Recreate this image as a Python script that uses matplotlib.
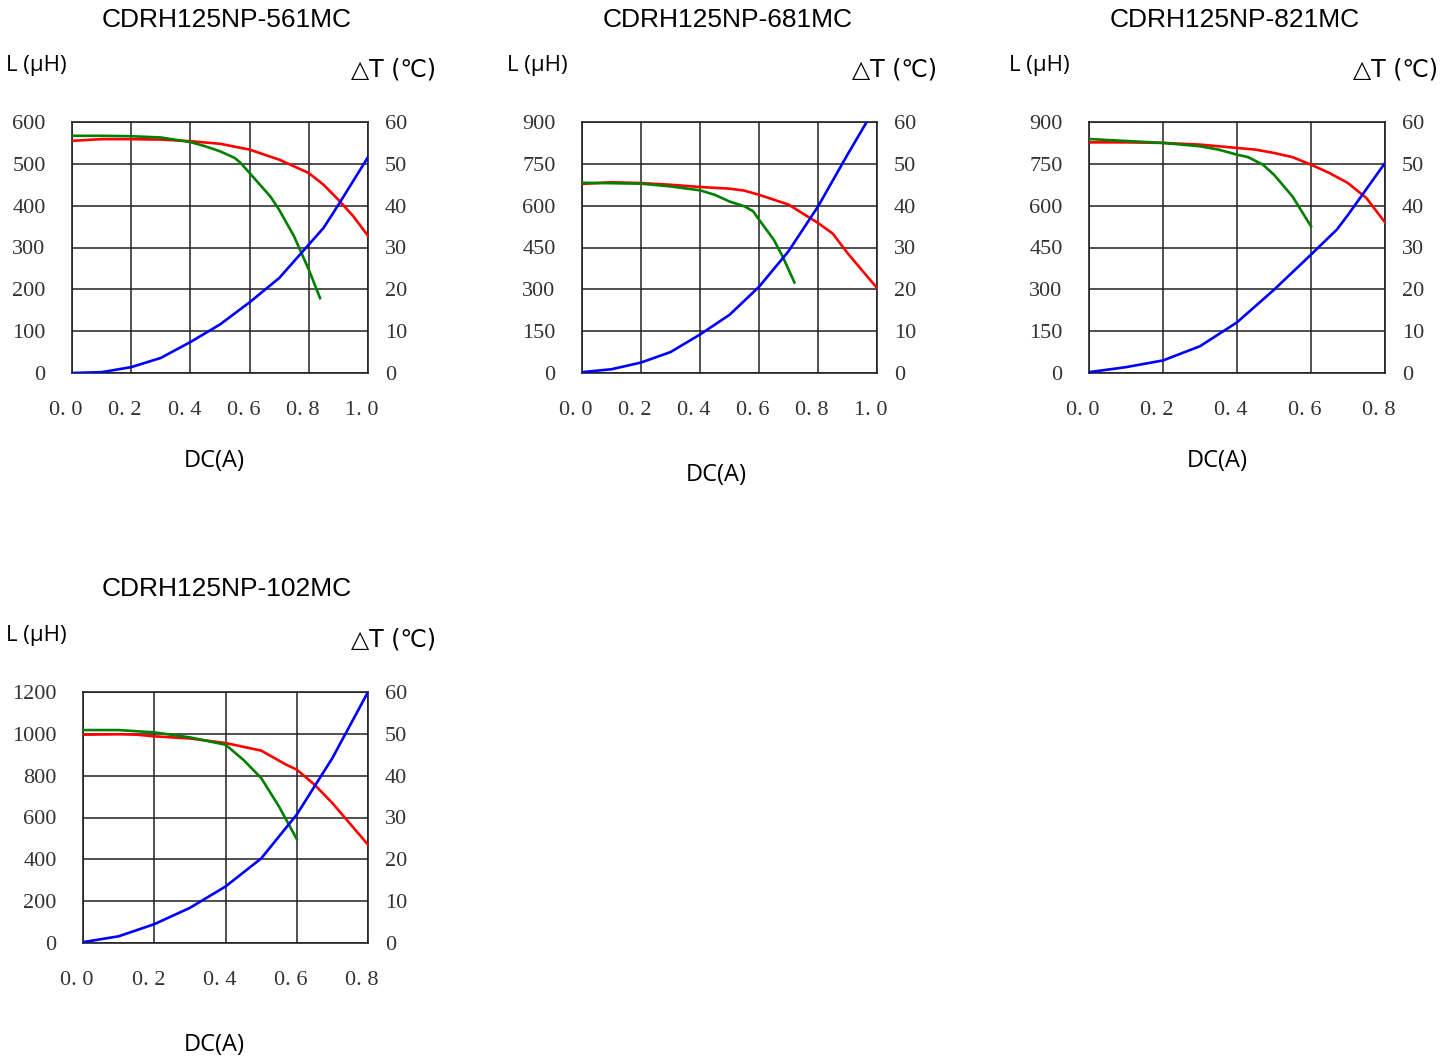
import numpy as np
import matplotlib
matplotlib.use("Agg")
import matplotlib.pyplot as plt
import matplotlib.transforms as mtrans

W, H = 1454, 1062

# ---- CDRH125NP-561MC ----
p1_red_x = [0.0, 0.1, 0.2, 0.3, 0.4, 0.5, 0.6, 0.7, 0.8, 0.85, 0.9, 0.95, 1.0]
p1_red_y = [555, 559, 559, 558, 554, 548, 534, 510, 478, 450, 414, 375, 328]
p1_green_x = [0.0, 0.1, 0.2, 0.3, 0.4, 0.45, 0.5, 0.55, 0.57, 0.6, 0.65, 0.67, 0.7, 0.75, 0.78, 0.8, 0.838]
p1_green_y = [567, 567, 566, 563, 552, 542, 530, 514, 502, 478, 438, 422, 390, 327, 279, 247, 179]
p1_blue_x = [0.0, 0.1, 0.2, 0.3, 0.4, 0.5, 0.6, 0.7, 0.8, 0.85, 0.9, 1.0]
p1_blue_y = [0.0, 0.2, 1.4, 3.6, 7.4, 11.6, 16.9, 22.7, 30.7, 34.7, 40.2, 51.6]

# ---- CDRH125NP-681MC ----
p2_red_x = [0.0, 0.1, 0.2, 0.3, 0.4, 0.5, 0.55, 0.6, 0.7, 0.8, 0.85, 0.9, 1.0]
p2_red_y = [678, 684, 681, 675, 667, 661, 654, 639, 604, 538, 500, 430, 305]
p2_green_x = [0.0, 0.2, 0.3, 0.4, 0.45, 0.5, 0.55, 0.58, 0.6, 0.65, 0.68, 0.72]
p2_green_y = [682, 679, 669, 655, 639, 615, 598, 580, 550, 478, 418, 325]
p2_blue_x = [0.0, 0.1, 0.2, 0.3, 0.4, 0.5, 0.6, 0.7, 0.8, 0.9, 0.965]
p2_blue_y = [0.2, 0.9, 2.5, 5.0, 9.2, 13.9, 20.6, 29.1, 39.8, 52.2, 60.0]

# ---- CDRH125NP-821MC ----
p3_red_x = [0.0, 0.1, 0.2, 0.3, 0.4, 0.45, 0.5, 0.55, 0.6, 0.65, 0.7, 0.75, 0.8]
p3_red_y = [827, 827, 825, 819, 807, 801, 789, 774, 747, 717, 681, 627, 540]
p3_green_x = [0.0, 0.1, 0.2, 0.3, 0.35, 0.4, 0.43, 0.47, 0.5, 0.55, 0.6]
p3_green_y = [839, 832, 825, 813, 801, 783, 774, 747, 711, 633, 526]
p3_blue_x = [0.0, 0.1, 0.2, 0.3, 0.4, 0.5, 0.6, 0.67, 0.7, 0.8]
p3_blue_y = [0.2, 1.4, 3.0, 6.4, 12.1, 19.9, 28.3, 34.3, 37.8, 50.2]

# ---- CDRH125NP-102MC ----
p4_red_x = [0.0, 0.1, 0.15, 0.2, 0.3, 0.4, 0.5, 0.57, 0.6, 0.65, 0.7, 0.8]
p4_red_y = [996, 998, 996, 988, 978, 956, 920, 853, 829, 757, 669, 470]
p4_green_x = [0.0, 0.1, 0.2, 0.3, 0.4, 0.45, 0.5, 0.55, 0.6]
p4_green_y = [1018, 1018, 1007, 983, 948, 876, 789, 653, 497]
p4_blue_x = [0.0, 0.1, 0.2, 0.3, 0.4, 0.5, 0.6, 0.7, 0.8]
p4_blue_y = [0.2, 1.6, 4.5, 8.4, 13.5, 20.2, 30.7, 44.2, 60.0]

titles = ["CDRH125NP-561MC", "CDRH125NP-681MC", "CDRH125NP-821MC", "CDRH125NP-102MC"]
x_max = [1.0, 1.0, 0.8, 0.8]
l_ticks = [
    [0, 100, 200, 300, 400, 500, 600],
    [0, 150, 300, 450, 600, 750, 900],
    [0, 150, 300, 450, 600, 750, 900],
    [0, 200, 400, 600, 800, 1000, 1200],
]
t_ticks = [0, 10, 20, 30, 40, 50, 60]

# axes boxes in pixels: left, top, right, bottom
boxes = [(72, 122, 368, 373), (582, 122, 877, 373), (1089, 122, 1385, 373), (83, 692, 368, 943)]
# label positions in pixels
title_pos = [(227, 20), (728, 20), (1235, 20), (227, 589)]
lab_l_pos = [(6, 65), (507, 65), (1009, 65), (6, 635)]
lab_t_pos = [(436, 69), (937, 69), (1438, 69), (436, 639)]
dc_pos = [(214, 461), (716, 475), (1217, 461), (214, 1045)]

curves = [
    (p1_red_x, p1_red_y, p1_green_x, p1_green_y, p1_blue_x, p1_blue_y),
    (p2_red_x, p2_red_y, p2_green_x, p2_green_y, p2_blue_x, p2_blue_y),
    (p3_red_x, p3_red_y, p3_green_x, p3_green_y, p3_blue_x, p3_blue_y),
    (p4_red_x, p4_red_y, p4_green_x, p4_green_y, p4_blue_x, p4_blue_y),
]

serif = ["Liberation Serif", "DejaVu Serif"]
sans = ["Liberation Sans", "DejaVu Sans"]

fig = plt.figure(figsize=(W / 100, H / 100), dpi=100)

for i in range(4):
    left, top, right, bottom = boxes[i]
    ax = fig.add_axes([left / W, 1 - bottom / H, (right - left) / W, (bottom - top) / H])
    rx, ry, gx, gy, bx, by = curves[i]
    lmax = l_ticks[i][-1]

    ax.plot(rx, ry, color="#ff0000", lw=1.9, zorder=3)
    ax.plot(gx, gy, color="#008000", lw=1.9, zorder=3)
    ax.set_xlim(0, x_max[i])
    ax.set_ylim(0, lmax)

    xt = np.arange(0, x_max[i] + 0.01, 0.2)
    ax.set_xticks(xt)
    ax.set_yticks(l_ticks[i])
    ax.grid(True, color="#222222", lw=1.1)
    ax.tick_params(length=0, labelsize=16)
    ax.tick_params(axis="x", pad=20)
    ax.tick_params(axis="y", pad=19)
    ax.set_xticklabels([("%.1f" % v).replace(".", ". ") for v in xt], family=serif, color="#333333")
    ax.set_yticklabels([str(v) for v in l_ticks[i]], family=serif, color="#333333")
    shift = mtrans.ScaledTranslation(-6 / 100, 0, fig.dpi_scale_trans)
    for lab in ax.get_xticklabels():
        lab.set_transform(lab.get_transform() + shift)
    for s in ax.spines.values():
        s.set_color("#222222")
        s.set_linewidth(1.2)

    ax2 = ax.twinx()
    ax2.plot(bx, by, color="#0000ff", lw=1.9, zorder=3)
    ax2.set_ylim(0, 60)
    ax2.set_yticks(t_ticks)
    ax2.set_yticklabels([str(v) for v in t_ticks], family=serif, color="#333333")
    ax2.tick_params(length=0, labelsize=16, pad=12)
    for s in ax2.spines.values():
        s.set_visible(False)

    fig.text(title_pos[i][0] / W, 1 - title_pos[i][1] / H, titles[i], ha="center", va="center",
             fontsize=19, family=sans)
    fig.text(lab_l_pos[i][0] / W, 1 - lab_l_pos[i][1] / H, "L (μH)", ha="left", va="center",
             fontsize=16, family=["Open Sans", "DejaVu Sans"])
    fig.text(lab_t_pos[i][0] / W, 1 - lab_t_pos[i][1] / H, "△T (℃)", ha="right", va="center",
             fontsize=17, family=["DejaVu Sans"])
    fig.text(dc_pos[i][0] / W, 1 - dc_pos[i][1] / H, "DC(A)", ha="center", va="center",
             fontsize=17, family=["Open Sans", "DejaVu Sans"])

fig.savefig("out.png", dpi=100)
